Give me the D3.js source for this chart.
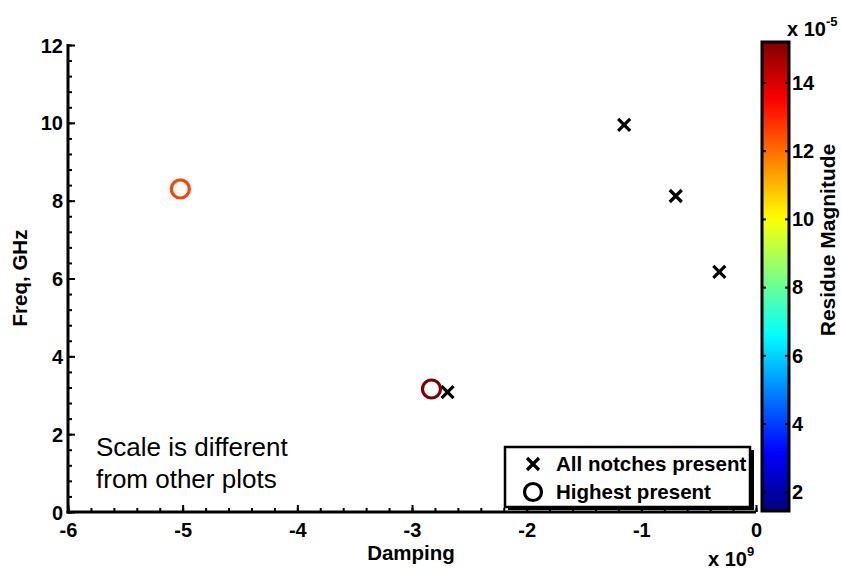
<!DOCTYPE html>
<html>
<head>
<meta charset="utf-8">
<script src="https://cdn.jsdelivr.net/npm/d3@7"></script>
<style>
  html, body { margin: 0; padding: 0; background: #fff; }
  svg { display: block; font-family: "Liberation Sans", Arial, Helvetica, sans-serif; }
</style>
</head>
<body>
<svg id="chart" width="842" height="569"></svg>
<script>
// Notch poles where all notches are present (damping in 1e9, freq in GHz)
const allDamping = [-1.15, -0.70, -0.32, -2.69];
const allFreq = [9.95, 8.12, 6.17, 3.08];

// Poles for the highest notch only, coloured by residue magnitude (x 1e-5)
const highDamping = [-5.02, -2.83];
const highFreq = [8.30, 3.16];
const highResidue = [12.6, 15.2];

const xTicks = [-6, -5, -4, -3, -2, -1, 0];
const yTicks = [0, 2, 4, 6, 8, 10, 12];
const cbTicks = [2, 4, 6, 8, 10, 12, 14];
const cbRange = [1.45, 15.2];
const legendLabels = ["All notches present", "Highest present"];

const svg = d3.select("#chart");
const M = { left: 68, right: 756, top: 45, bottom: 512 };

const x = d3.scaleLinear().domain([-6, 0]).range([M.left, M.right]);
const y = d3.scaleLinear().domain([0, 12]).range([M.bottom, M.top]);
const fmt = d => String(d); // plain hyphen minus

// MATLAB jet colormap
function jet(t) {
  const c = v => Math.max(0, Math.min(1, v));
  const r = c(1.5 - Math.abs(4 * t - 3));
  const g = c(1.5 - Math.abs(4 * t - 2));
  const b = c(1.5 - Math.abs(4 * t - 1));
  return d3.rgb(r * 255, g * 255, b * 255).formatHex();
}
const color = v => jet((v - cbRange[0]) / (cbRange[1] - cbRange[0]));

// Axes
const xAxis = svg.append("g").attr("transform", `translate(0,${M.bottom})`);
xAxis.call(d3.axisBottom(x).tickValues(d3.range(-6, 0.001, 0.2)).tickSize(-4).tickFormat(""));
xAxis.append("g").call(d3.axisBottom(x).tickValues(xTicks).tickSize(-7).tickFormat(fmt));
const yAxis = svg.append("g").attr("transform", `translate(${M.left},0)`);
yAxis.call(d3.axisLeft(y).tickValues(d3.range(0, 12.001, 0.4)).tickSize(-4).tickFormat(""));
yAxis.append("g").call(d3.axisLeft(y).tickValues(yTicks).tickSize(-7).tickFormat(fmt));

svg.selectAll(".domain").remove();
svg.selectAll(".tick line").attr("stroke", "#000").attr("stroke-width", 2);
svg.selectAll(".tick text")
  .attr("fill", "#000").attr("font-size", 20).attr("font-weight", "bold")
  .attr("font-family", "Liberation Sans, Arial, sans-serif");
xAxis.selectAll(".tick text").attr("dy", null).attr("y", 25);
yAxis.selectAll(".tick text").attr("x", -5).attr("dy", "0.35em");

svg.append("line").attr("x1", M.left).attr("x2", M.left).attr("y1", M.top - 1).attr("y2", M.bottom + 1.5)
  .attr("stroke", "#000").attr("stroke-width", 3);
svg.append("line").attr("x1", M.left - 1.5).attr("x2", M.right).attr("y1", M.bottom).attr("y2", M.bottom)
  .attr("stroke", "#000").attr("stroke-width", 3);

// Axis titles
svg.append("text").attr("x", 411).attr("y", 560).attr("text-anchor", "middle")
  .attr("font-size", 20.5).attr("font-weight", "bold").text("Damping");
svg.append("text").attr("transform", "translate(27,278) rotate(-90)").attr("text-anchor", "middle")
  .attr("font-size", 20.5).attr("font-weight", "bold").text("Freq, GHz");
const xExp = svg.append("text").attr("x", 708).attr("y", 566).attr("font-size", 20).attr("font-weight", "bold");
xExp.append("tspan").text("x 10");
xExp.append("tspan").attr("font-size", 13).attr("dy", -10).text("9");

// Annotation
svg.append("text").attr("x", 96).attr("y", 456).attr("font-size", 26).text("Scale is different");
svg.append("text").attr("x", 96).attr("y", 488).attr("font-size", 26).text("from other plots");

// Markers
const crossPath = s => `M${-s},${-s}L${s},${s}M${-s},${s}L${s},${-s}`;
svg.append("g").selectAll("path").data(allDamping).join("path")
  .attr("transform", (d, i) => `translate(${x(d)},${y(allFreq[i])})`)
  .attr("d", crossPath(6)).attr("stroke", "#000").attr("stroke-width", 3.2).attr("fill", "none");

svg.append("g").selectAll("circle").data(highDamping).join("circle")
  .attr("cx", d => x(d)).attr("cy", (d, i) => y(highFreq[i])).attr("r", 9)
  .attr("fill", "none").attr("stroke", (d, i) => color(highResidue[i])).attr("stroke-width", 3.2);

// Legend
const lg = svg.append("g");
lg.append("rect").attr("x", 508).attr("y", 450).attr("width", 246).attr("height", 60).attr("fill", "#000");
lg.append("rect").attr("x", 505).attr("y", 447).attr("width", 245).attr("height", 60)
  .attr("fill", "#fff").attr("stroke", "#000").attr("stroke-width", 2.5);
lg.append("path").attr("transform", "translate(533,464)").attr("d", crossPath(6))
  .attr("stroke", "#000").attr("stroke-width", 3.2);
lg.append("circle").attr("cx", 533).attr("cy", 492).attr("r", 8.5)
  .attr("fill", "none").attr("stroke", "#000").attr("stroke-width", 3.2);
legendLabels.forEach((t, i) => {
  lg.append("text").attr("x", 556).attr("y", 471 + i * 28).attr("font-size", 20.5)
    .attr("font-weight", "bold").text(t);
});

// Colorbar
const cb = { x: 762, w: 27, top: 42, bottom: 511 };
const cy = d3.scaleLinear().domain(cbRange).range([cb.bottom, cb.top]);
const defs = svg.append("defs");
const grad = defs.append("linearGradient").attr("id", "jetGrad")
  .attr("x1", 0).attr("y1", 1).attr("x2", 0).attr("y2", 0);
d3.range(0, 1.0001, 0.02).forEach(t => {
  grad.append("stop").attr("offset", t).attr("stop-color", jet(t));
});
svg.append("rect").attr("x", cb.x).attr("y", cb.top).attr("width", cb.w).attr("height", cb.bottom - cb.top)
  .attr("fill", "url(#jetGrad)").attr("stroke", "#000").attr("stroke-width", 3);
const cbAxis = svg.append("g").attr("transform", `translate(${cb.x + cb.w},0)`);
cbAxis.call(d3.axisRight(cy).tickValues(cbTicks).tickSize(0).tickPadding(3).tickFormat(fmt));
cbAxis.select(".domain").remove();
cbAxis.selectAll(".tick text").attr("fill", "#000").attr("font-size", 20).attr("font-weight", "bold")
  .attr("font-family", "Liberation Sans, Arial, sans-serif");
svg.append("g").selectAll("line").data(cbTicks.flatMap(v => [[v, cb.x], [v, cb.x + cb.w - 4]])).join("line")
  .attr("x1", d => d[1]).attr("x2", d => d[1] + 4).attr("y1", d => cy(d[0])).attr("y2", d => cy(d[0]))
  .attr("stroke", "#000").attr("stroke-width", 2);

const cExp = svg.append("text").attr("x", 787).attr("y", 36).attr("font-size", 20).attr("font-weight", "bold");
cExp.append("tspan").text("x 10");
cExp.append("tspan").attr("font-size", 13).attr("dy", -10).text("-5");
svg.append("text").attr("transform", "translate(835,240) rotate(-90)").attr("text-anchor", "middle")
  .attr("font-size", 21).attr("font-weight", "bold").text("Residue Magnitude");
</script>
</body>
</html>
